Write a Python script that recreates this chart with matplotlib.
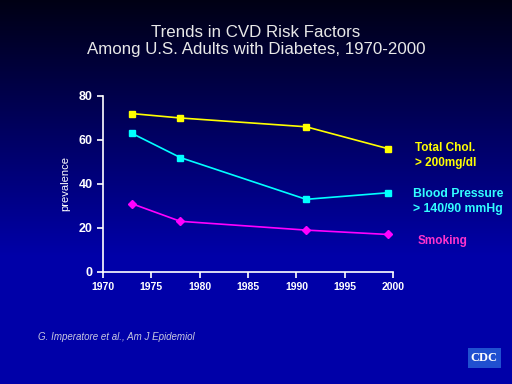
import numpy as np
import matplotlib.pyplot as plt
from matplotlib.patches import Rectangle

# dane
lata = [1973, 1978, 1991, 1999.5]
cholesterol = [72, 70, 66, 56]
cisnienie = [63, 52, 33, 36]
palenie = [31, 23, 19, 17]

etykiety = ["Total Chol.\n> 200mg/dl", "Blood Pressure\n> 140/90 mmHg", "Smoking"]
kolory = ["#FFFF00", "#00FFFF", "#FF00FF"]
kolory_tekstu = ["#FFFF00", "#33FFFF", "#FF33CC"]

plt.rcParams['font.family'] = ['Liberation Sans', 'DejaVu Sans']

fig = plt.figure(figsize=(5.12, 3.84), dpi=100)

# tlo - gradient od czarnego do niebieskiego
tlo = fig.add_axes([0, 0, 1, 1])
grad = np.linspace(0, 1, 256).reshape(-1, 1)
r = np.zeros_like(grad)
g = np.zeros_like(grad)
b = 0.08 + 0.58 * np.clip(grad * 1.5, 0, 1)
img = np.dstack([r, g, b])
tlo.imshow(img, aspect='auto', extent=[0, 1, 0, 1], origin='upper')
tlo.set_axis_off()

ax = fig.add_axes([0.201, 0.292, 0.567, 0.458])
ax.set_facecolor('none')

ax.plot(lata, cholesterol, '-s', color=kolory[0], markersize=5, linewidth=1.2)
ax.plot(lata, cisnienie, '-s', color=kolory[1], markersize=5, linewidth=1.2)
ax.plot(lata, palenie, '-D', color=kolory[2], markersize=4, linewidth=1.2)

ax.set_xlim(1970, 2000)
ax.set_ylim(0, 80)
ax.set_xticks(range(1970, 2001, 5))
ax.set_yticks(range(0, 81, 20))
for s in ['top', 'right']:
    ax.spines[s].set_visible(False)
for s in ['left', 'bottom']:
    ax.spines[s].set_color('white')
    ax.spines[s].set_linewidth(1.2)
ax.tick_params(colors='white', labelsize=8, length=4, width=1.2)
for lab in ax.get_xticklabels():
    lab.set_fontweight('bold')
    lab.set_fontsize(7.5)
for lab in ax.get_yticklabels():
    lab.set_fontweight('bold')
    lab.set_fontsize(9)
ax.set_ylabel("prevalence", color='white', fontsize=8, labelpad=6)

fig.text(0.5, 0.893, "Trends in CVD Risk Factors\nAmong U.S. Adults with Diabetes, 1970-2000",
         ha='center', va='center', color='#E8E8E8', fontsize=12.2, linespacing=1.2)

# etykiety serii
fig.text(0.81, 0.596, etykiety[0], color=kolory_tekstu[0], fontsize=8.5,
         fontweight='bold', va='center', linespacing=1.35)
fig.text(0.806, 0.475, etykiety[1], color=kolory_tekstu[1], fontsize=8.8,
         fontweight='bold', va='center', linespacing=1.35)
fig.text(0.816, 0.372, etykiety[2], color=kolory_tekstu[2], fontsize=8.5,
         fontweight='bold', va='center')

fig.text(0.074, 0.122, "G. Imperatore et al., Am J Epidemiol", color='#C8C8E0',
         fontsize=7, style='italic', va='center')

# logo CDC
fig.patches.append(Rectangle((0.914, 0.042), 0.064, 0.052, transform=fig.transFigure,
                             facecolor='#2050D0', edgecolor='none'))
fig.text(0.946, 0.069, "CDC", color='white', fontsize=9, fontweight='bold',
         ha='center', va='center', family='Liberation Serif')

fig.savefig("out.png", dpi=100)
